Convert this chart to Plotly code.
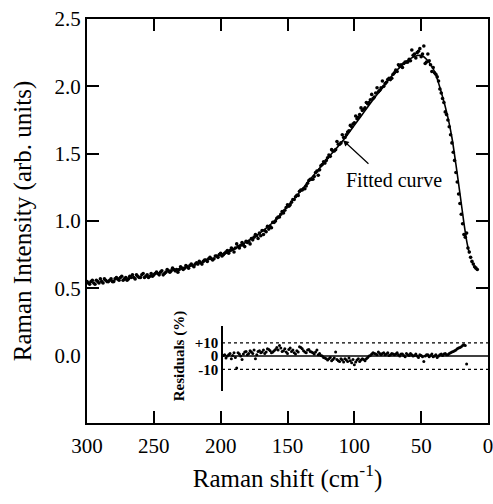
import plotly.graph_objects as go

shift_a = [300, 298, 296, 294, 292, 290, 288, 286, 284, 282, 280, 278, 276, 274, 272, 270,
           268, 266, 264, 262, 260, 258, 256, 254, 252, 250, 248, 246, 244, 242, 240, 238,
           236, 234, 232, 230, 228, 226, 224, 222, 220, 218, 216, 214, 212, 210, 208, 206,
           204, 202, 200, 198, 196, 194, 192, 190, 188, 186, 184, 182, 180, 178, 176, 174,
           172, 170, 168, 166, 164, 162, 160, 158, 156, 154, 152, 150, 148, 146, 144, 142,
           140, 138, 136, 134, 132, 130, 128, 126, 124, 122, 120, 118, 116, 114, 112, 110,
           108, 106, 104, 102, 100, 98, 96, 94, 92, 90, 88, 86, 84, 82, 80, 78,
           76, 74, 72, 70, 68, 66, 64, 62, 60, 58, 56, 54, 52, 50, 48, 46,
           44, 42, 40, 38, 36, 34, 32, 30, 28, 26, 24, 22, 20, 18, 16, 14,
           12, 10, 8]
intensity_a = [0.55, 0.53, 0.56, 0.53, 0.55, 0.57, 0.54, 0.56, 0.55, 0.57, 0.55, 0.58, 0.56, 0.59, 0.57, 0.56,
               0.59, 0.60, 0.57, 0.59, 0.58, 0.61, 0.59, 0.58, 0.61, 0.60, 0.62, 0.60, 0.63, 0.61, 0.64, 0.62,
               0.65, 0.63, 0.62, 0.66, 0.64, 0.67, 0.65, 0.68, 0.66, 0.69, 0.70, 0.68, 0.71, 0.70, 0.73, 0.71,
               0.74, 0.73, 0.76, 0.75, 0.77, 0.76, 0.80, 0.77, 0.83, 0.80, 0.84, 0.81, 0.84, 0.83, 0.86, 0.90,
               0.87, 0.89, 0.90, 0.92, 0.94, 0.95, 0.99, 1.02, 1.03, 1.07, 1.08, 1.12, 1.12, 1.16, 1.18, 1.19,
               1.23, 1.24, 1.26, 1.30, 1.31, 1.33, 1.37, 1.38, 1.42, 1.43, 1.47, 1.48, 1.52, 1.53, 1.57, 1.58,
               1.62, 1.64, 1.67, 1.70, 1.73, 1.76, 1.79, 1.82, 1.84, 1.87, 1.90, 1.91, 1.95, 1.96, 1.99, 2.00,
               2.03, 2.06, 2.06, 2.10, 2.11, 2.15, 2.14, 2.18, 2.18, 2.19, 2.23, 2.21, 2.26, 2.22, 2.30, 2.18,
               2.19, 2.11, 2.10, 2.07, 1.98, 1.91, 1.81, 1.75, 1.64, 1.51, 1.36, 1.20, 1.05, 0.90, 0.91, 0.77,
               0.70, 0.66, 0.64]

shift_b = [299, 297, 295, 293, 291, 289, 287, 285, 283, 281, 279, 277, 275, 273, 271, 269,
           267, 265, 263, 261, 259, 257, 255, 253, 251, 249, 247, 245, 243, 241, 239, 237,
           235, 233, 231, 229, 227, 225, 223, 221, 219, 217, 215, 213, 211, 209, 207, 205,
           203, 201, 199, 197, 195, 193, 191, 189, 187, 185, 183, 181, 179, 177, 175, 173,
           171, 169, 167, 165, 163, 161, 159, 157, 155, 153, 151, 149, 147, 145, 143, 141,
           139, 137, 135, 133, 131, 129, 127, 125, 123, 121, 119, 117, 115, 113, 111, 109,
           107, 105, 103, 101, 99, 97, 95, 93, 91, 89, 87, 85, 83, 81, 79, 77,
           75, 73, 71, 69, 67, 65, 63, 61, 59, 57, 55, 53, 51, 49, 47, 45,
           43, 41, 39, 37, 35, 33, 31, 29, 27, 25, 23, 21, 19, 17, 15, 13,
           11, 9]
intensity_b = [0.54, 0.55, 0.54, 0.56, 0.54, 0.55, 0.57, 0.55, 0.56, 0.55, 0.57, 0.57, 0.58, 0.56, 0.58, 0.57,
               0.58, 0.58, 0.60, 0.58, 0.60, 0.58, 0.60, 0.59, 0.59, 0.61, 0.61, 0.62, 0.60, 0.62, 0.63, 0.63,
               0.64, 0.64, 0.64, 0.65, 0.65, 0.66, 0.67, 0.67, 0.68, 0.68, 0.69, 0.70, 0.71, 0.72, 0.72, 0.72,
               0.74, 0.75, 0.74, 0.76, 0.78, 0.78, 0.79, 0.80, 0.81, 0.82, 0.82, 0.85, 0.85, 0.87, 0.88, 0.89,
               0.91, 0.93, 0.93, 0.96, 0.96, 0.99, 1.00, 1.03, 1.05, 1.06, 1.10, 1.11, 1.14, 1.16, 1.19, 1.22,
               1.23, 1.24, 1.28, 1.31, 1.31, 1.36, 1.34, 1.41, 1.44, 1.45, 1.49, 1.53, 1.52, 1.59, 1.57, 1.64,
               1.62, 1.66, 1.71, 1.72, 1.78, 1.77, 1.84, 1.83, 1.88, 1.88, 1.94, 1.92, 1.99, 1.97, 2.04, 2.02,
               2.05, 2.05, 2.09, 2.12, 2.16, 2.16, 2.17, 2.18, 2.20, 2.27, 2.24, 2.25, 2.28, 2.24, 2.17, 2.24,
               2.16, 2.14, 2.09, 2.04, 1.95, 1.88, 1.79, 1.70, 1.58, 1.45, 1.29, 1.13, 0.98, 0.88, 0.80, 0.73,
               0.68, 0.65]

# Fitted curve
fit_shift = [200, 195, 190, 185, 180, 175, 170, 165, 160, 155, 150, 145, 140, 135, 130, 125,
             120, 115, 110, 105, 100, 95, 90, 85, 80, 75, 70, 65, 60, 55, 50, 45,
             40, 35, 30, 27, 24, 21, 18, 16, 14]
fit_intensity = [0.740, 0.765, 0.790, 0.819, 0.848, 0.881, 0.916, 0.955, 0.998, 1.050, 1.110, 1.165,
                 1.225, 1.285, 1.345, 1.405, 1.465, 1.522, 1.580, 1.643, 1.710, 1.778, 1.846, 1.913,
                 1.975, 2.040, 2.100, 2.150, 2.192, 2.222, 2.230, 2.190, 2.110, 1.958, 1.770, 1.620,
                 1.420, 1.205, 0.985, 0.855, 0.760]

# Residuals (%)
res_shift_a = [198, 196, 194, 192, 190, 188, 186, 184, 182, 180, 178, 176, 174, 172, 170, 168,
               166, 164, 162, 160, 158, 156, 154, 152, 150, 148, 146, 144, 142, 140, 138, 136,
               134, 132, 130, 128, 126, 124, 122, 120, 118, 116, 114, 112, 110, 108, 106, 104,
               102, 100, 98, 96, 94, 92, 90, 88, 86, 84, 82, 80, 78, 76, 74, 72,
               70, 68, 66, 64, 62, 60, 58, 56, 54, 52, 50, 48, 46, 44, 42, 40,
               38, 36, 34, 32, 30, 28, 26, 24, 22, 20, 18, 16]
residual_a = [0.5, -1.5, 1.0, -2.0, 2.5, -9.0, 1.5, -2.5, 3.0, 1.0, 4.0, 2.0, -2.0, 3.5, 2.5, 4.5,
              3.0, 5.0, 2.5, 4.0, 6.5, 8.0, 3.5, 5.5, 2.0, 6.0, 4.5, 1.5, 3.0, 6.5, 4.0, 2.5,
              5.0, 3.0, 1.5, 4.5, 2.0, 0.0, -1.5, -3.0, -1.0, -2.5, 3.0, -3.5, -2.0, -4.5, -3.0, -1.5,
              -5.0, -6.5, -3.0, -4.0, -2.0, -3.5, -1.0, 0.5, 2.5, 1.5, 3.0, 1.0, 2.5, 1.5, 0.5, 2.0,
              1.0, 2.5, 0.0, 1.5, -0.5, 1.0, 2.0, 0.0, 1.5, -1.0, 0.5, -4.0, 1.0, -0.5, 1.5, 0.0,
              -1.0, 1.0, 0.5, 2.0, 1.0, 2.5, 3.5, 4.5, 6.0, 7.0, 8.5, -6.0]
res_shift_b = [197, 195, 193, 191, 189, 187, 185, 183, 181, 179, 177, 175, 173, 171, 169, 167,
               165, 163, 161, 159, 157, 155, 153, 151, 149, 147, 145, 143, 141, 139, 137, 135,
               133, 131, 129, 127, 125, 123, 121, 119, 117, 115, 113, 111, 109, 107, 105, 103,
               101, 99, 97, 95, 93, 91, 89, 87, 85, 83, 81, 79, 77, 75, 73, 71,
               69, 67, 65, 63, 61, 59, 57, 55, 53, 51, 49, 47, 45, 43, 41, 39,
               37, 35, 33, 31, 29, 27, 25, 23, 21, 19, 17]
residual_b = [1.0, 0.0, 2.0, 0.5, -1.0, 2.5, 0.0, 1.5, 3.5, 2.0, 3.0, 4.5, 1.0, 4.0, 3.0, 2.0,
              5.5, 4.0, 3.0, 5.0, 4.5, 6.0, 4.0, 3.0, 5.0, 3.5, 2.5, 4.0, 7.0, 5.5, 3.0, 4.5,
              3.5, 2.5, 3.0, 1.0, 0.5, -1.0, -2.0, -2.0, -3.5, -1.5, -2.5, -4.0, -3.0, -2.0, -4.0, -3.5,
              -2.5, -4.5, -2.0, -3.0, -2.5, -2.0, 0.0, 1.5, 2.0, 1.0, 2.0, 2.0, 1.0, 2.5, 1.0, 1.5,
              1.5, 1.0, 1.5, 0.5, 2.0, 0.5, 1.0, 0.5, 0.0, 1.0, -0.5, 0.0, 1.0, 0.5, -0.5, 1.0,
              0.0, 1.5, 1.5, 1.0, 2.0, 3.0, 4.0, 5.5, 6.5, 8.0, 8.0]

y_tickvals = [0.0, 0.5, 1.0, 1.5, 2.0, 2.5]
y_ticktext = ["0.0", "0.5", "1.0", "1.5", "2.0", "2.5"]
x_tickvals = [300, 250, 200, 150, 100, 50, 0]
res_tickvals = [10, 0, -10]
res_ticktext = ["+10", "0", "-10"]

FONT = "Liberation Serif"

fig = go.Figure()
fig.add_trace(go.Scatter(x=shift_a + shift_b, y=intensity_a + intensity_b, mode="markers",
                         marker=dict(color="black", size=3.6), xaxis="x", yaxis="y"))
fig.add_trace(go.Scatter(x=fit_shift, y=fit_intensity, mode="lines",
                         line=dict(color="black", width=1.6, shape="spline", smoothing=0.8),
                         xaxis="x", yaxis="y"))
fig.add_trace(go.Scatter(x=res_shift_a + res_shift_b, y=residual_a + residual_b, mode="markers",
                         marker=dict(color="black", size=3.0), xaxis="x", yaxis="y2"))

axis_common = dict(showline=True, linecolor="black", linewidth=2, mirror="ticks",
                   ticks="inside", ticklen=12, tickwidth=2, tickcolor="black",
                   showgrid=False, zeroline=False, automargin=False,
                   tickfont=dict(family=FONT, size=21, color="black"))

fig.update_layout(
    width=493, height=504,
    margin=dict(l=87, r=5, t=19, b=81),
    paper_bgcolor="white", plot_bgcolor="white",
    showlegend=False,
    font=dict(family=FONT, color="black"),
    xaxis=dict(range=[300, 0], tickvals=x_tickvals, ticklabelstandoff=3,
               ticklabeloverflow="allow",
               title=dict(text="Raman shift (cm<sup>-1</sup>)",
                          font=dict(family=FONT, size=25, color="black"), standoff=12),
               **axis_common),
    yaxis=dict(range=[-0.5, 2.5], tickvals=y_tickvals, ticktext=y_ticktext,
               title=dict(text="Raman Intensity (arb. units)",
                          font=dict(family=FONT, size=25, color="black"), standoff=16),
               **axis_common),
    yaxis2=dict(domain=[0.0792, 0.240], range=[-26.3, 22.6], anchor="free",
                position=0.3367, showline=True, linecolor="black", linewidth=1.5,
                ticks="", tickvals=res_tickvals, ticktext=res_ticktext,
                showgrid=False, zeroline=False, automargin=False,
                tickfont=dict(family=FONT, size=15, color="black", weight="bold")),
)

fig.add_shape(type="line", xref="x", yref="y2", x0=199, x1=0, y0=0, y1=0,
              line=dict(color="black", width=1.5))
for lvl in (10, -10):
    fig.add_shape(type="line", xref="x", yref="y2", x0=199, x1=0, y0=lvl, y1=lvl,
                  line=dict(color="black", width=1.3, dash="dot"))

fig.add_annotation(x=231, y=0, xref="x", yref="y2", text="Residuals (%)", textangle=-90,
                   showarrow=False, font=dict(family=FONT, size=15, color="black", weight="bold"))
fig.add_annotation(x=70.3, y=1.306, xref="x", yref="y", text="Fitted curve",
                   showarrow=False, font=dict(family=FONT, size=20, color="black"))
fig.add_annotation(x=108.5, y=1.60, xref="x", yref="y", text="", showarrow=True,
                   ax=27, ay=25, arrowhead=2, arrowsize=1, arrowwidth=1.2, arrowcolor="black")

fig.write_html("out.html", config={"displayModeBar": False},
               post_script="document.body.style.margin='0';")
